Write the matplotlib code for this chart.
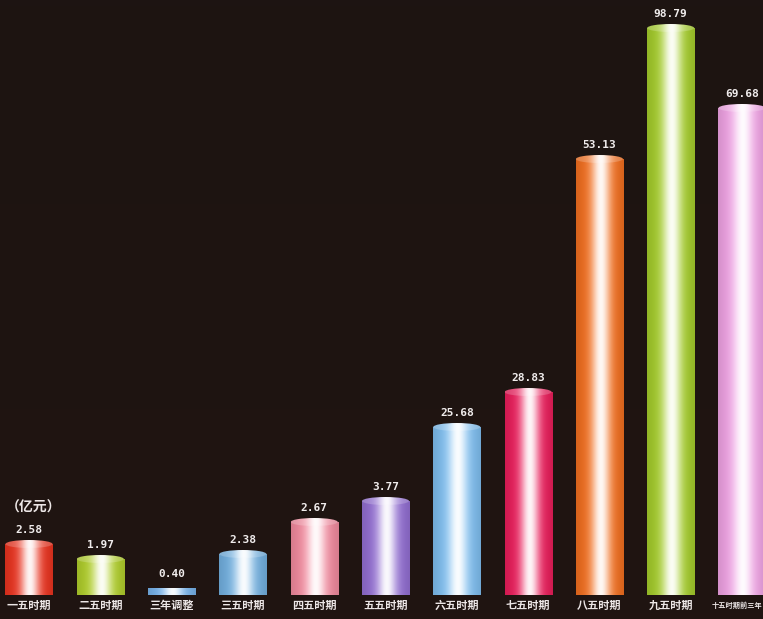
import numpy as np
import matplotlib
matplotlib.use("Agg")
import matplotlib.pyplot as plt
from matplotlib.patches import Rectangle, Ellipse
from matplotlib.colors import to_rgb

plt.rcParams['font.family'] = ['Noto Sans CJK SC', 'DejaVu Sans']

categories = ['一五时期', '二五时期', '三年调整', '三五时期', '四五时期', '五五时期',
              '六五时期', '七五时期', '八五时期', '九五时期', '十五时期前三年']
values = [2.58, 1.97, 0.40, 2.38, 2.67, 3.77, 25.68, 28.83, 53.13, 98.79, 69.68]
# bar heights as drawn in the picture (the picture is not to scale)
drawn_heights = [55, 40, 11, 45, 77, 98, 172, 207, 440, 571, 491]
colors = ['#ec3420', '#b2d02c', '#78b4ec', '#74b2e2', '#f48ca0', '#9470d4',
          '#80c0f2', '#ec1e5c', '#f47020', '#a6ce2c', '#f2a4e6']
unit_label = '（亿元）'

bg = '#1e1411'
fig = plt.figure(figsize=(7.63, 6.19), dpi=100, facecolor=bg)
ax = fig.add_axes([0, 0, 1, 1])
ax.set_facecolor(bg)
ax.set_xlim(-29 / 71.3, (763 - 29) / 71.3)
ax.set_ylim(-24, 595)
ax.axis('off')

# subtle background gradient
bgimg = np.zeros((100, 2, 3))
top = np.array(to_rgb('#1d1412'))
bot = np.array(to_rgb('#201411'))
for i in range(100):
    bgimg[i, :, :] = top + (bot - top) * i / 99
ax.imshow(bgimg, extent=[ax.get_xlim()[0], ax.get_xlim()[1], -24, 595],
          aspect='auto', zorder=0, origin='upper')

width = 0.66
cap_h = 8
t = np.linspace(0, 1, 200)
for i, (h, v, c, cat) in enumerate(zip(drawn_heights, values, colors, categories)):
    base = np.array(to_rgb(c))
    shade = 0.88 + 0.12 * np.sin(np.pi * t)
    w = 0.95 * np.exp(-((t - 0.52) / 0.2) ** 2)
    col = base[None, :] * shade[:, None]
    col = col * (1 - w[:, None]) + w[:, None]
    img = np.tile(col[None, :, :], (2, 1, 1))
    x0 = i - width / 2
    body_top = max(h - cap_h / 2, 1)
    rect = Rectangle((x0, 0), width, body_top, facecolor='none', edgecolor='none')
    ax.add_patch(rect)
    im = ax.imshow(img, extent=[x0, x0 + width, 0, body_top], aspect='auto', zorder=2)
    im.set_clip_path(rect)
    if h > 15:
        ell = Ellipse((i, body_top), width, cap_h, facecolor='none', edgecolor='none')
        ax.add_patch(ell)
        capcol = col * 0.8 + 0.2
        capimg = np.tile(capcol[None, :, :], (2, 1, 1))
        im2 = ax.imshow(capimg, extent=[x0, x0 + width, body_top - cap_h / 2, body_top + cap_h / 2],
                        aspect='auto', zorder=3)
        im2.set_clip_path(ell)
    ax.text(i, h + 10, f'{v:.2f}', ha='center', va='center', color='#f0ecec',
            fontsize=8, fontweight='bold', family=['DejaVu Sans Mono'], zorder=4)
    if len(cat) <= 4:
        ax.text(i, -10, cat, ha='center', va='center', color='#ece6e6',
                fontsize=8, fontweight='bold', zorder=4)
    else:
        ax.text(ax.get_xlim()[1] - 0.01, -10, cat, ha='right', va='center', color='#ece6e6',
                fontsize=5.2, fontweight='bold', zorder=4)

ax.text(-0.33, 87, unit_label, ha='left', va='center', color='#ece6e6',
        fontsize=10, fontweight='bold', zorder=4)

fig.savefig('out.png', dpi=100, facecolor=bg)
